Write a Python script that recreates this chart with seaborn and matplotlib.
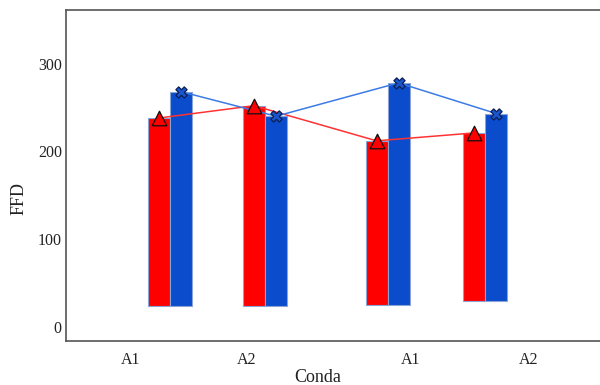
import matplotlib
matplotlib.use("Agg")
import matplotlib.pyplot as plt
import pandas as pd
import seaborn as sns

# group centres on a numeric x axis (groups are not evenly spaced)
group_pos = [1.0, 2.0, 3.29, 4.32]
red_vals = [238, 252, 212, 221]
blue_vals = [268, 240, 278, 243]
bar_base = [24, 24, 25, 30]
tick_pos = [0.58, 1.81, 3.53, 4.77]
tick_labels = ["A1", "A2", "A1", "A2"]

BAR_W = 0.232
RED = "#ff0000"
BLUE = "#0a4ccc"


def main() -> None:
    sns.set_theme(style="white")
    plt.rcParams["font.family"] = ["Liberation Serif", "DejaVu Serif"]

    red_x = [p - BAR_W / 2 for p in group_pos]
    blue_x = [p + BAR_W / 2 for p in group_pos]
    df = pd.DataFrame({
        "x": red_x + blue_x,
        "y": red_vals + blue_vals,
        "series": ["red"] * 4 + ["blue"] * 4,
    })

    fig = plt.figure(figsize=(6.0, 3.85), dpi=100)
    ax = fig.add_axes([66 / 600, 44 / 385, 560 / 600, 331 / 385])

    ax.bar(red_x, [v - b for v, b in zip(red_vals, bar_base)], bottom=bar_base,
           width=BAR_W, color=RED, edgecolor="#8aa4d6", linewidth=0.8, zorder=2)
    ax.bar(blue_x, [v - b for v, b in zip(blue_vals, bar_base)], bottom=bar_base,
           width=BAR_W, color=BLUE, edgecolor="#8aa4d6", linewidth=0.8, zorder=2)

    sns.lineplot(data=df, x="x", y="y", hue="series", sort=False,
                 palette={"red": "#ff3333", "blue": "#3c7be6"},
                 linewidth=1.1, legend=False, ax=ax, zorder=3)
    sns.scatterplot(data=df[df["series"] == "red"], x="x", y="y", marker="^",
                    s=110, color=RED, edgecolor="#111111", linewidth=0.9,
                    legend=False, ax=ax, zorder=4)
    sns.scatterplot(data=df[df["series"] == "blue"], x="x", y="y", marker="X",
                    s=65, color="#1a55cc", edgecolor="#0a1f55", linewidth=0.9,
                    legend=False, ax=ax, zorder=4)

    ax.set_xlim(-0.095, 5.80)
    ax.set_ylim(-16, 361)
    ax.set_xticks(tick_pos)
    ax.set_xticklabels(tick_labels)
    ax.set_yticks([0, 100, 200, 300])
    ax.tick_params(axis="both", length=0, labelsize=11.5, colors="#222222")
    ax.tick_params(axis="y", pad=3)
    ax.tick_params(axis="x", pad=8)

    for side in ["left", "top", "bottom"]:
        ax.spines[side].set_color("#555555")
        ax.spines[side].set_linewidth(1.2)
    ax.spines["right"].set_visible(False)

    ax.set_xlabel("Conda", fontsize=13, color="#222222")
    ax.set_ylabel("FFD", fontsize=13, color="#222222")
    ax.xaxis.set_label_coords(0.45, -0.085)
    ax.yaxis.set_label_coords(-0.068, 0.43)

    fig.savefig("out.png", dpi=100)
    plt.close(fig)


if __name__ == "__main__":
    main()
